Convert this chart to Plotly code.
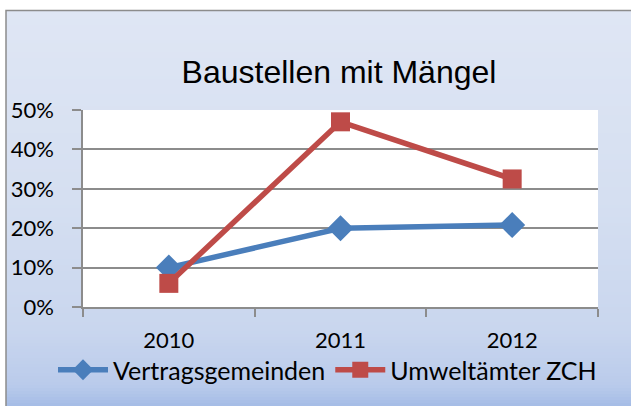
import plotly.graph_objects as go

years = ["2010", "2011", "2012"]
vertrags = [0.10, 0.20, 0.208]
umwelt = [0.06, 0.47, 0.325]
y_ticks = [0, 0.1, 0.2, 0.3, 0.4, 0.5]
y_labels = ["0%", "10%", "20%", "30%", "40%", "50%"]

W, H = 631, 406
L, R, T, B = 83, 598, 110, 307  # plot area pixels


def px_x(px):
    return (px - L) / (R - L)


def px_y(py):
    return (B - py) / (B - T)


def lerp(c1, c2, t):
    return tuple(round(a + (b - a) * t) for a, b in zip(c1, c2))


stops = [(10, (0xdf, 0xe6, 0xf4)), (200, (0xd5, 0xdf, 0xf1)), (330, (0xc9, 0xd6, 0xee)),
         (385, (0xba, 0xcb, 0xeb)), (406, (0xa4, 0xbc, 0xe6))]


def grad(py):
    for (y0, c0), (y1, c1) in zip(stops[:-1], stops[1:]):
        if y0 <= py <= y1:
            return lerp(c0, c1, (py - y0) / (y1 - y0))
    return stops[-1][1]


shapes = []
step = 3
y = 10
while y < H:
    c = grad(y + step / 2)
    shapes.append(dict(type="rect", xref="paper", yref="paper", layer="below",
                       x0=px_x(6), x1=px_x(W + 5), y0=px_y(y), y1=px_y(min(y + step + 0.5, H + 5)),
                       line=dict(width=0), fillcolor="rgb(%d,%d,%d)" % c))
    y += step
shapes.append(dict(type="rect", xref="paper", yref="paper", layer="below",
                   x0=0, x1=1, y0=0, y1=1, line=dict(width=0), fillcolor="white"))
shapes.append(dict(type="rect", xref="paper", yref="paper", layer="above",
                   x0=px_x(6), x1=px_x(W + 20), y0=px_y(10.5), y1=px_y(H + 20),
                   line=dict(color="#8c8c8c", width=1.5), fillcolor="rgba(0,0,0,0)"))

fig = go.Figure()
fig.add_trace(go.Scatter(x=years, y=vertrags, name="Vertragsgemeinden", mode="lines+markers",
                         line=dict(color="#4a7ebb", width=5.5),
                         marker=dict(symbol="diamond", size=20, color="#4a7ebb")))
fig.add_trace(go.Scatter(x=years, y=umwelt, name="Umweltämter ZCH", mode="lines+markers",
                         line=dict(color="#be4b48", width=5.5),
                         marker=dict(symbol="square", size=19, color="#be4b48")))

tick_font = dict(family="Lato, Noto Sans, sans-serif", size=22, color="black")

fig.update_layout(
    width=W, height=H,
    margin=dict(l=L, r=W - R, t=T, b=H - B),
    paper_bgcolor="white", plot_bgcolor="white",
    shapes=shapes,
    title=dict(text="Baustellen mit Mängel", x=px_x(339), xref="paper", xanchor="center",
               y=1 - 72 / H, yanchor="middle",
               font=dict(family="Liberation Sans, Arial, sans-serif", size=32, color="black")),
    xaxis=dict(type="category", range=[-0.5, 2.5], showgrid=False, showline=True,
               linecolor="#8c8c8c", linewidth=1.5, ticks="outside", ticklen=8,
               tickcolor="#8c8c8c", tickwidth=1.5, tickson="boundaries",
               tickfont=tick_font, ticklabelstandoff=13, zeroline=False),
    yaxis=dict(range=[0, 0.5], tickvals=y_ticks, ticktext=y_labels, showgrid=True,
               gridcolor="#8c8c8c", gridwidth=1.5, showline=True, linecolor="#8c8c8c",
               linewidth=1.5, ticks="outside", ticklen=9, tickcolor="#8c8c8c", tickwidth=1.5,
               tickfont=tick_font, ticklabelstandoff=14, zeroline=False),
    legend=dict(orientation="h", x=px_x(53), y=px_y(370), xanchor="left", yanchor="middle",
                bgcolor="rgba(0,0,0,0)", font=dict(family="Lato, Noto Sans, sans-serif", size=25,
                                                     color="black"),
                itemwidth=50, tracegroupgap=0),
    showlegend=True,
)

fig.write_html("out.html", config={"displayModeBar": False},
               post_script="document.body.style.margin='0';")
